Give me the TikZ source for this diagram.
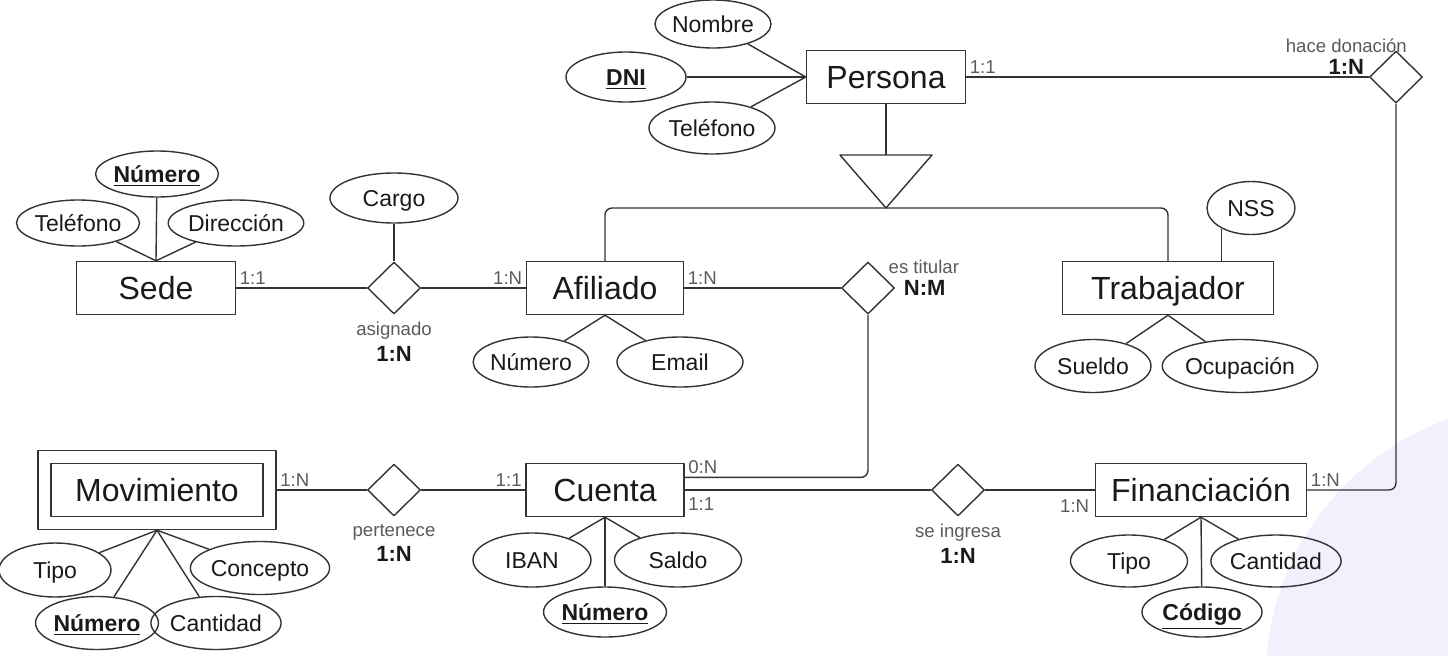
\documentclass[tikz,border=0pt]{standalone}
\usepackage{fontspec}
\setmainfont{Liberation Sans}
\usetikzlibrary{shapes.geometric,positioning}
\definecolor{linea}{RGB}{51,51,51}
\definecolor{gris}{RGB}{90,90,90}
\definecolor{negro}{RGB}{26,26,26}
\definecolor{marca}{RGB}{242,240,253}
\tikzset{
	entidad/.style={draw=linea, text=negro, minimum height=26.5pt, inner sep=0pt, text height=11.5pt, text depth=0pt, font=\fontsize{16}{18}\selectfont},
	atributo/.style={draw=linea, text=negro, ellipse, inner sep=0pt, text height=8.3pt, text depth=0pt, font=\fontsize{11.5}{13}\selectfont},
	relacion/.style={draw=linea, diamond, inner sep=0pt, minimum width=26.5pt, minimum height=26pt},
	card/.style={text=gris, inner sep=1.5pt, font=\fontsize{9.3}{11}\selectfont},
	cardbf/.style={text=negro, inner sep=1pt, font=\fontsize{11}{13}\selectfont\bfseries},
}
\newcommand{\clave}[1]{\underline{\textbf{#1}}}
\begin{document}
\begin{tikzpicture}[join=round, x=0.5pt, y=-0.5pt, color=linea, line width=0.7pt]
		\useasboundingbox (0,0) rectangle (1448,655);
		% marca de agua
		\begin{scope}
			\clip (0,0) rectangle (1448,655);
			\fill[marca] (1541,678) circle (137.5pt);
		\end{scope}
		% entidades
		\node[entidad, minimum width=79.5pt] (sede) at (156,288) {Sede};
		\node[entidad, minimum width=79.5pt] (persona) at (886,77) {Persona};
		\node[entidad, minimum width=78.5pt] (afiliado) at (605,288) {Afiliado};
		\node[entidad, minimum width=105.5pt] (trabajador) at (1168,288) {Trabajador};
		\node[entidad, minimum width=79pt] (cuenta) at (605,490) {Cuenta};
		\node[entidad, minimum width=105.5pt] (financ) at (1201,490) {Financiación};
		\node[draw, minimum width=119pt, minimum height=39.5pt] (mov) at (157,490) {};
		\node[entidad, minimum width=106pt] (movint) at (mov) {Movimiento};
		% relaciones
		\node[relacion] (asignado) at (394,288) {};
		\node[relacion] (estitular) at (868,288) {};
		\node[relacion] (hacedon) at (1396,77) {};
		\node[relacion] (pertenece) at (394,490) {};
		\node[relacion] (seingresa) at (958,490) {};
		% atributos
		\node[atributo, minimum width=61pt, minimum height=23pt] (stel) at (78,223) {Teléfono};
		\node[atributo, minimum width=59pt, minimum height=23pt] (snum) at (157,174) {\clave{Número}};
		\node[atributo, minimum width=59pt, minimum height=23pt] (sdir) at (236,223) {Dirección};
		\node[atributo, minimum width=64pt, minimum height=25pt] (cargo) at (394,198) {Cargo};
		\node[atributo, minimum width=58pt, minimum height=24pt] (nombre) at (713,24) {Nombre};
		\node[atributo, minimum width=60pt, minimum height=25pt] (dni) at (626,77) {\clave{DNI}};
		\node[atributo, minimum width=63pt, minimum height=26pt] (ptel) at (712,128) {Teléfono};
		\node[atributo, minimum width=56.5pt, minimum height=25pt] (anum) at (531,362) {Número};
		\node[atributo, minimum width=63pt, minimum height=25pt] (aemail) at (680,362) {Email};
		\node[atributo, minimum width=44pt, minimum height=26.5pt] (nss) at (1251,208) {NSS};
		\node[atributo, minimum width=58pt, minimum height=26.5pt] (sueldo) at (1093,366) {Sueldo};
		\node[atributo, minimum width=63.5pt, minimum height=26.5pt] (ocup) at (1240,366) {Ocupación};
		\node[atributo, minimum width=56pt, minimum height=27pt] (mtipo) at (55,570) {Tipo};
		\node[atributo, minimum width=63.5pt, minimum height=26.5pt] (mconc) at (260,568) {Concepto};
		\node[atributo, minimum width=59.5pt, minimum height=26.5pt] (mnum) at (97,623) {\clave{Número}};
		\node[atributo, minimum width=59pt, minimum height=26.5pt] (mcant) at (216,623) {Cantidad};
		\node[atributo, minimum width=59pt, minimum height=27pt] (iban) at (532,560) {IBAN};
		\node[atributo, minimum width=63.5pt, minimum height=27pt] (saldo) at (678,560) {Saldo};
		\node[atributo, minimum width=59.5pt, minimum height=25pt] (cnum) at (605,612) {\clave{Número}};
		\node[atributo, minimum width=58.5pt, minimum height=26pt] (ftipo) at (1129,561) {Tipo};
		\node[atributo, minimum width=63.5pt, minimum height=26pt] (fcant) at (1276,561) {Cantidad};
		\node[atributo, minimum width=60pt, minimum height=25pt] (fcod) at (1202,612) {\clave{Código}};
		\foreach \a/\b in {stel/sede.north, snum/sede.north, sdir/sede.north, cargo/asignado,
			nombre/persona.west, dni/persona.west, ptel/persona.west,
			anum/afiliado.south, aemail/afiliado.south, sueldo/trabajador.south, ocup/trabajador.south,
			mtipo/mov.south, mconc/mov.south, mnum/mov.south, mcant/mov.south,
			iban/cuenta.south, saldo/cuenta.south, cnum/cuenta.south,
			ftipo/financ.south, fcant/financ.south, fcod/financ.south}
		\draw (\a)--(\b);
		\draw (nss.215)--(nss.215 |- trabajador.north);
		% jerarquia
		\coordinate (isatop) at (886,155);
		\coordinate (isa) at (886,208);
		\draw (persona)--(isatop);
		\draw (840,155)--(932,155)--(isa)--cycle;
		\draw[rounded corners=3.5pt] (afiliado.north) |- (isa) -| (trabajador.north);
		% conexiones
		\draw (sede)--(asignado)--(afiliado);
		\draw (afiliado)--(estitular);
		\draw[rounded corners=3.5pt] (estitular.south) |- (cuenta.9);
		\draw (persona)--(hacedon);
		\draw[rounded corners=3.5pt] (hacedon.south) |- (financ.east);
		\draw (mov)--(pertenece)--(cuenta)--(seingresa)--(financ);
		% cardinalidades
		\node[card, above right=0pt of sede.east] (c1) {1:1};
		\node[card, above left=0pt of afiliado.west] (c2) {1:N};
		\node[card, above right=0pt of afiliado.east] (c3) {1:N};
		\node[card, above right=0pt of persona.east] (c4) {1:1};
		\node[cardbf, above left=0pt and 1pt of hacedon.west] (c5) {1:N};
		\node[card, above=0pt of c5] (n5) {hace donación};
		\node[card, above right=0pt of mov.east] (c6) {1:N};
		\node[card, above left=0pt of cuenta.west] (c7) {1:1};
		\node[card, above right=0pt of cuenta.9] (c8) {0:N};
		\node[card, below right=2pt and 0pt of cuenta.east] (c9) {1:1};
		\node[card, below left=3pt and 1pt of financ.west] (c10) {1:N};
		\node[card, above right=0pt of financ.east] (c11) {1:N};
		\node[card, below=2pt of asignado] (n1) {asignado};
		\node[cardbf, below=0pt of n1] (c12) {1:N};
		\node[card, below=2pt of pertenece] (n2) {pertenece};
		\node[cardbf, below=0pt of n2] (c13) {1:N};
		\node[card, below=2pt of seingresa] (n3) {se ingresa};
		\node[cardbf, below=0pt of n3] (c14) {1:N};
		\node[card, anchor=west] (n4) at (885,267) {es titular};
		\node[cardbf, right=3pt of estitular.east] (c15) {N:M};
	\end{tikzpicture}
\end{document}
